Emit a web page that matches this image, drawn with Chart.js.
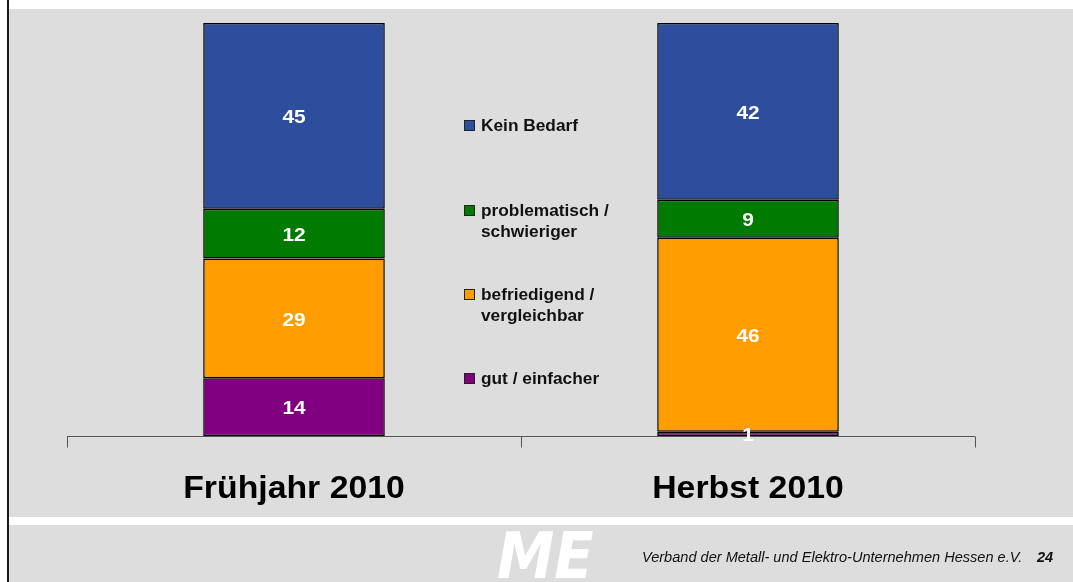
<!DOCTYPE html>
<html><head><meta charset="utf-8">
<script src="https://cdn.jsdelivr.net/npm/chart.js@4/dist/chart.umd.min.js"></script>
<style>html,body{margin:0;padding:0;background:#fff;overflow:hidden}#wrap{position:relative;width:1073px;height:582px}canvas{display:block}</style>
</head><body><div id="wrap"><canvas id="c" width="1073" height="582"></canvas></div>
<script>
// ---- data ----
const categories = ['Frühjahr 2010', 'Herbst 2010'];
const gutEinfacher = [14, 1.0];
const befriedigend = [29, 47.0];
const problematisch = [12, 9.2];
const keinBedarf = [45, 42.8];
const gutLabels = ['14', '1'];
const befriedigendLabels = ['29', '46'];
const problematischLabels = ['12', '9'];
const keinBedarfLabels = ['45', '42'];
const legendNames = [['Kein Bedarf'], ['problematisch /', 'schwieriger'], ['befriedigend /', 'vergleichbar'], ['gut / einfacher']];
const footerText = 'Verband der Metall- und Elektro-Unternehmen Hessen e.V.';
const pageNumber = '24';

const colors = ['#800080', '#ff9c00', '#007a00', '#2d4d9d'];
const valueLabels = [gutLabels, befriedigendLabels, problematischLabels, keinBedarfLabels];

const FONT = '"Liberation Sans", Arial, Helvetica, sans-serif';

function drawText(ctx, text, x, y, sx) {
  ctx.save();
  ctx.translate(x, y);
  ctx.scale(sx, 1);
  ctx.fillText(text, 0, 0);
  ctx.restore();
}

const decor = {
  id: 'decor',
  beforeDraw(chart) {
    const ctx = chart.ctx;
    ctx.save();
    ctx.fillStyle = '#ffffff';
    ctx.fillRect(0, 0, 1073, 582);
    ctx.fillStyle = '#dddddd';
    ctx.fillRect(8, 9, 1065, 508);
    ctx.fillRect(8, 525, 1065, 57);
    ctx.fillStyle = '#1a1a1a';
    ctx.fillRect(7, 0, 2, 582);
    ctx.restore();
  },
  afterDatasetsDraw(chart) {
    const ctx = chart.ctx;
    const xs = chart.scales.x;
    const area = chart.chartArea;
    ctx.save();
    // axis line and ticks
    const baseY = Math.round(chart.scales.y.getPixelForValue(0)) + 0.5;
    const mid = (xs.getPixelForValue(0) + xs.getPixelForValue(1)) / 2;
    ctx.strokeStyle = '#555555';
    ctx.lineWidth = 1;
    ctx.beginPath();
    ctx.moveTo(area.left, baseY); ctx.lineTo(area.right, baseY);
    [area.left, mid, area.right].forEach(x => {
      const px = Math.round(x) + 0.5;
      ctx.moveTo(px, baseY); ctx.lineTo(px, baseY + 11);
    });
    ctx.stroke();

    // value labels
    ctx.fillStyle = '#ffffff';
    ctx.font = 'bold 19px ' + FONT;
    ctx.textAlign = 'center';
    ctx.textBaseline = 'middle';
    chart.data.datasets.forEach((ds, i) => {
      const meta = chart.getDatasetMeta(i);
      meta.data.forEach((el, j) => {
        const y = (el.y + el.base) / 2 + 2;
        drawText(ctx, valueLabels[i][j], el.x, y, 1.1);
      });
    });

    // category labels
    ctx.fillStyle = '#000000';
    ctx.font = 'bold 31px ' + FONT;
    categories.forEach((c, i) => {
      drawText(ctx, c, xs.getPixelForValue(i), 489, 1.09);
    });

    // legend
    const legendY = [[126], [211, 232], [295, 316], [379]];
    const legendColors = [colors[3], colors[2], colors[1], colors[0]];
    ctx.textAlign = 'left';
    ctx.font = 'bold 16px ' + FONT;
    legendNames.forEach((lines, k) => {
      const y0 = legendY[k][0];
      ctx.fillStyle = legendColors[k];
      ctx.fillRect(464, y0 - 6, 11, 11);
      ctx.strokeStyle = '#222';
      ctx.lineWidth = 1;
      ctx.strokeRect(464.5, y0 - 5.5, 10, 10);
      ctx.fillStyle = '#111111';
      lines.forEach((t, m) => drawText(ctx, t, 481, legendY[k][m] + 1, 1.08));
    });

    // footer logo
    ctx.save();
    ctx.fillStyle = '#ffffff';
    ctx.font = 'italic bold 64px "DejaVu Sans", sans-serif';
    ctx.textBaseline = 'alphabetic';
    ctx.translate(497, 578);
    ctx.scale(0.9, 1);
    ctx.fillText('ME', 0, 0);
    ctx.restore();

    // footer text
    ctx.fillStyle = '#111111';
    ctx.textBaseline = 'middle';
    ctx.font = 'italic 14px ' + FONT;
    drawText(ctx, footerText, 642, 558, 1.04);
    ctx.font = 'italic bold 14px ' + FONT;
    drawText(ctx, pageNumber, 1037, 558, 1.04);
    ctx.restore();
  }
};

new Chart(document.getElementById('c'), {
  type: 'bar',
  data: {
    labels: categories,
    datasets: [
      { label: 'gut / einfacher', data: gutEinfacher, backgroundColor: colors[0] },
      { label: 'befriedigend / vergleichbar', data: befriedigend, backgroundColor: colors[1] },
      { label: 'problematisch / schwieriger', data: problematisch, backgroundColor: colors[2] },
      { label: 'Kein Bedarf', data: keinBedarf, backgroundColor: colors[3] }
    ].map(d => Object.assign(d, {
      borderColor: '#000000', borderWidth: 1.5, borderSkipped: false,
      categoryPercentage: 1.0, barPercentage: 0.4
    }))
  },
  options: {
    responsive: false,
    devicePixelRatio: 1,
    animation: false,
    layout: { padding: { left: 67, right: 98, top: 23, bottom: 146 } },
    scales: {
      x: { stacked: true, display: false, offset: true },
      y: { stacked: true, display: false, min: 0, max: 100 }
    },
    plugins: { legend: { display: false }, tooltip: { enabled: false } }
  },
  plugins: [decor]
});
</script>
</body></html>
